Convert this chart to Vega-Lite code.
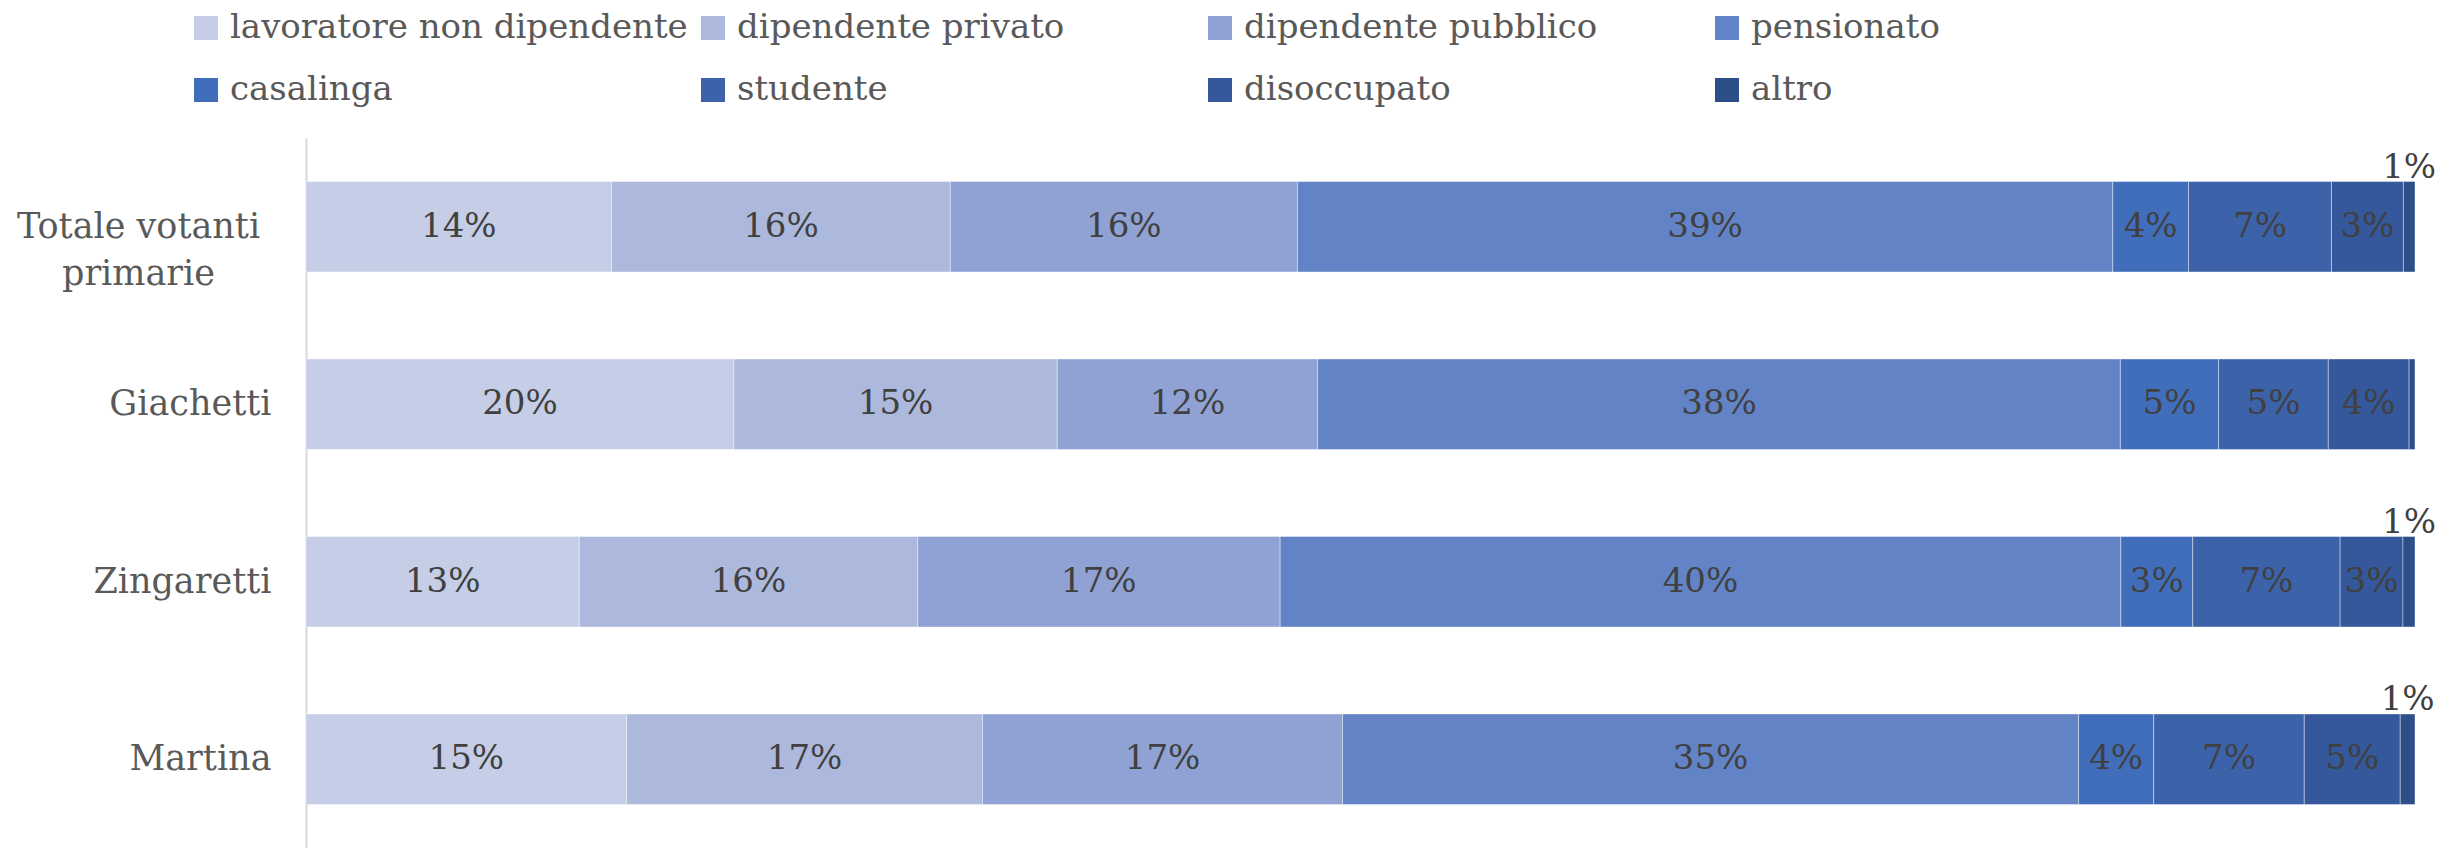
{
  "$schema": "https://vega.github.io/schema/vega-lite/v6.json",
  "width": 2109,
  "height": 710,
  "autosize": {"type": "none"},
  "padding": {"left": 306, "top": 138, "right": 33, "bottom": 0},
  "background": "white",
  "config": {"view": {"stroke": null}, "font": "DejaVu Serif"},
  "data": {
    "values": [
      {"gruppo": "Totale votanti primarie", "categoria": "lavoratore non dipendente", "quota": 0.1449},
      {"gruppo": "Totale votanti primarie", "categoria": "dipendente privato", "quota": 0.1606},
      {"gruppo": "Totale votanti primarie", "categoria": "dipendente pubblico", "quota": 0.1646},
      {"gruppo": "Totale votanti primarie", "categoria": "pensionato", "quota": 0.3866},
      {"gruppo": "Totale votanti primarie", "categoria": "casalinga", "quota": 0.0359},
      {"gruppo": "Totale votanti primarie", "categoria": "studente", "quota": 0.0678},
      {"gruppo": "Totale votanti primarie", "categoria": "disoccupato", "quota": 0.0341},
      {"gruppo": "Totale votanti primarie", "categoria": "altro", "quota": 0.0055},
      {"gruppo": "Giachetti", "categoria": "lavoratore non dipendente", "quota": 0.2029},
      {"gruppo": "Giachetti", "categoria": "dipendente privato", "quota": 0.1533},
      {"gruppo": "Giachetti", "categoria": "dipendente pubblico", "quota": 0.1235},
      {"gruppo": "Giachetti", "categoria": "pensionato", "quota": 0.3806},
      {"gruppo": "Giachetti", "categoria": "casalinga", "quota": 0.0466},
      {"gruppo": "Giachetti", "categoria": "studente", "quota": 0.052},
      {"gruppo": "Giachetti", "categoria": "disoccupato", "quota": 0.0383},
      {"gruppo": "Giachetti", "categoria": "altro", "quota": 0.0028},
      {"gruppo": "Zingaretti", "categoria": "lavoratore non dipendente", "quota": 0.1296},
      {"gruppo": "Zingaretti", "categoria": "dipendente privato", "quota": 0.1604},
      {"gruppo": "Zingaretti", "categoria": "dipendente pubblico", "quota": 0.1719},
      {"gruppo": "Zingaretti", "categoria": "pensionato", "quota": 0.3986},
      {"gruppo": "Zingaretti", "categoria": "casalinga", "quota": 0.0341},
      {"gruppo": "Zingaretti", "categoria": "studente", "quota": 0.0699},
      {"gruppo": "Zingaretti", "categoria": "disoccupato", "quota": 0.0298},
      {"gruppo": "Zingaretti", "categoria": "altro", "quota": 0.0057},
      {"gruppo": "Martina", "categoria": "lavoratore non dipendente", "quota": 0.152},
      {"gruppo": "Martina", "categoria": "dipendente privato", "quota": 0.1688},
      {"gruppo": "Martina", "categoria": "dipendente pubblico", "quota": 0.1707},
      {"gruppo": "Martina", "categoria": "pensionato", "quota": 0.349},
      {"gruppo": "Martina", "categoria": "casalinga", "quota": 0.0356},
      {"gruppo": "Martina", "categoria": "studente", "quota": 0.0714},
      {"gruppo": "Martina", "categoria": "disoccupato", "quota": 0.0455},
      {"gruppo": "Martina", "categoria": "altro", "quota": 0.007}
    ]
  },
  "transform": [
    {"calculate": "indexof(['lavoratore non dipendente','dipendente privato','dipendente pubblico','pensionato','casalinga','studente','disoccupato','altro'], datum.categoria)", "as": "ord"},
    {"stack": "quota", "groupby": ["gruppo"], "sort": [{"field": "ord", "order": "ascending"}], "as": ["q0", "q1"]},
    {"calculate": "(datum.q0 + datum.q1) / 2", "as": "qmid"}
  ],
  "encoding": {
    "y": {
      "field": "gruppo",
      "type": "nominal",
      "sort": ["Totale votanti primarie", "Giachetti", "Zingaretti", "Martina"],
      "scale": {"paddingInner": 0.49, "paddingOuter": 0.245},
      "axis": {
        "title": null,
        "domainColor": "#D9D9D9",
        "domainWidth": 2,
        "ticks": false,
        "labelFont": "DejaVu Serif",
        "labelFontSize": 35,
        "labelColor": "#595959",
        "labelLimit": 400,
        "labelLineHeight": 47,
        "labelBaseline": "middle",
        "labelExpr": "datum.value == 'Totale votanti primarie' ? ['Totale votanti', 'primarie'] : datum.value",
        "labelAlign": {"condition": {"test": "datum.value == 'Totale votanti primarie'", "value": "center"}, "value": "right"},
        "labelPadding": {"condition": {"test": "datum.value == 'Totale votanti primarie'", "value": 168}, "value": 35}
      }
    }
  },
  "layer": [
    {
      "mark": {"type": "bar", "stroke": "#ffffff", "strokeWidth": 1, "strokeOpacity": 0.4},
      "encoding": {
        "x": {"field": "q0", "type": "quantitative", "scale": {"domain": [0, 1], "nice": false, "zero": true}, "axis": null},
        "x2": {"field": "q1"},
        "color": {
          "field": "categoria",
          "type": "nominal",
          "scale": {
            "domain": ["lavoratore non dipendente", "dipendente privato", "dipendente pubblico", "pensionato", "casalinga", "studente", "disoccupato", "altro"],
            "range": ["#C5CEE6", "#ADB9DC", "#8FA2D3", "#6383C7", "#416EBB", "#3C63AA", "#34589B", "#2C4E89"]
          },
          "legend": {
            "orient": "none",
            "legendX": -117,
            "legendY": -127,
            "direction": "horizontal",
            "columns": 4,
            "gridAlign": "all",
            "columnPadding": 8,
            "rowPadding": 28,
            "symbolType": "square",
            "symbolSize": 576,
            "symbolStrokeWidth": 0,
            "symbolOpacity": 1,
            "labelFont": "DejaVu Serif",
            "labelFontSize": 34,
            "labelColor": "#595959",
            "labelOffset": 7,
            "labelLimit": 600,
            "title": null,
            "padding": 0
          }
        }
      }
    },
    {
      "transform": [{"filter": "datum.categoria != 'altro'"}],
      "mark": {"type": "text", "fontSize": 34, "color": "#404040", "font": "DejaVu Serif", "baseline": "middle", "align": "center"},
      "encoding": {
        "x": {"field": "qmid", "type": "quantitative"},
        "text": {"field": "quota", "type": "quantitative", "format": ".0%"}
      }
    },
    {
      "transform": [{"filter": "datum.categoria == 'altro' && datum.quota >= 0.005"}],
      "mark": {"type": "text", "fontSize": 34, "color": "#404040", "font": "DejaVu Serif", "baseline": "alphabetic", "align": "center", "dy": -49},
      "encoding": {
        "x": {"field": "qmid", "type": "quantitative"},
        "text": {"field": "quota", "type": "quantitative", "format": ".0%"}
      }
    }
  ]
}
